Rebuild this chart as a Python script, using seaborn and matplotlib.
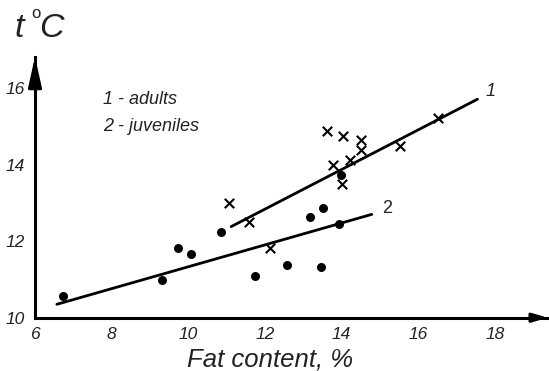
import matplotlib
matplotlib.use("Agg")
import matplotlib.pyplot as plt
from matplotlib.patches import FancyArrowPatch
import seaborn as sns
import pandas as pd

# Adults (crosses)
adult_fat = [11.07, 11.59, 12.14, 13.62, 14.04, 13.78, 14.22, 14.02, 14.51, 14.51, 15.53, 16.52]
adult_temp = [13.00, 12.50, 11.82, 14.87, 14.74, 13.99, 14.12, 13.49, 14.64, 14.38, 14.48, 15.21]
# Juveniles (dots)
juv_fat = [6.74, 9.32, 9.72, 10.07, 10.85, 11.75, 12.57, 13.46, 13.18, 13.53, 13.94, 13.99]
juv_temp = [10.57, 10.99, 11.81, 11.66, 12.24, 11.08, 11.37, 11.32, 12.63, 12.86, 12.45, 13.74]
# Trend lines (end points)
line1_x = [11.12, 17.55]
line1_y = [12.38, 15.71]
line2_x = [6.57, 14.79]
line2_y = [10.35, 12.70]

x_major = [6, 8, 10, 12, 14, 16, 18]
x_minor = [7, 9, 11, 13, 15, 17]
y_major = [10, 12, 14, 16]
y_minor = [11, 13, 15]

sns.set_theme(style="white")
plt.rcParams['font.family'] = ['Liberation Sans', 'DejaVu Sans']

TXT = "#222222"
fig = plt.figure(figsize=(5.49, 3.71), dpi=100)
ax = fig.add_axes([35/549, 53.3/371, 513/549, 261/371])

dfa = pd.DataFrame({"fat": adult_fat, "temp": adult_temp})
dfj = pd.DataFrame({"fat": juv_fat, "temp": juv_temp})
sns.scatterplot(data=dfa, x="fat", y="temp", marker="x", s=46, color="black",
                linewidth=1.5, ax=ax, zorder=3)
sns.scatterplot(data=dfj, x="fat", y="temp", marker="o", s=42, color="black",
                edgecolor="black", linewidth=0, ax=ax, zorder=3)
sns.lineplot(x=line1_x, y=line1_y, color="black", linewidth=2.0, ax=ax, zorder=2)
sns.lineplot(x=line2_x, y=line2_y, color="black", linewidth=2.0, ax=ax, zorder=2)

ax.set_xlim(6, 19.39)
ax.set_ylim(10, 16.82)

for s in ["top", "right"]:
    ax.spines[s].set_visible(False)
for s in ["left", "bottom"]:
    ax.spines[s].set_linewidth(2.2)
    ax.spines[s].set_color("black")

ax.set_xticks(x_major)
ax.set_xticks(x_minor, minor=True)
ax.set_yticks(y_major)
ax.set_yticks(y_minor, minor=True)
ax.set_xticklabels([str(v) for v in x_major])
ax.set_yticklabels([str(v) for v in y_major])
ax.tick_params(axis="both", which="both", direction="in", length=7, width=2.0,
               color="black", labelcolor=TXT, labelsize=12.5)
ax.tick_params(axis="x", which="major", pad=7)
ax.tick_params(axis="y", which="major", pad=7)
for lab in ax.get_xticklabels() + ax.get_yticklabels():
    lab.set_fontstyle("italic")

ax.set_xlabel("")
ax.set_ylabel("")
fig.text(270/549, 4.5/371, "Fat content, %", fontsize=18.5, fontstyle="italic",
         color=TXT, ha="center", va="baseline")

# axis arrows
arr_y = FancyArrowPatch((0, 0.93), (0, 1.0), transform=ax.transAxes,
                        arrowstyle="-|>,head_length=1.8,head_width=0.4",
                        mutation_scale=10, color="black", lw=2.2,
                        shrinkA=0, shrinkB=0, clip_on=False)
arr_x = FancyArrowPatch((0.97, 0), (1.0, 0), transform=ax.transAxes,
                        arrowstyle="-|>,head_length=0.9,head_width=0.26",
                        mutation_scale=10, color="black", lw=2.2,
                        shrinkA=0, shrinkB=0, clip_on=False)
ax.add_patch(arr_y)
ax.add_patch(arr_x)

# legend-like texts
ax.text(7.78, 15.70, "1 - adults", fontsize=13, fontstyle="italic", color=TXT,
        ha="left", va="center")
ax.text(7.78, 14.99, "2 - juveniles", fontsize=13, fontstyle="italic", color=TXT,
        ha="left", va="center")
ax.text(17.75, 15.92, "1", fontsize=13, fontstyle="italic", color=TXT,
        ha="left", va="center")
ax.text(15.05, 12.85, "2", fontsize=13, color=TXT, ha="left", va="center")

# y-axis title t°C
fig.text(14/549, 1 - 37/371, "t", fontsize=24.5, fontstyle="italic", color=TXT,
         ha="left", va="baseline")
fig.text(31/549, 1 - 18.5/371, "o", fontsize=12, color=TXT, ha="left", va="baseline")
fig.text(39/549, 1 - 37/371, "C", fontsize=24.5, fontstyle="italic", color=TXT,
         ha="left", va="baseline")

fig.savefig("out.png", dpi=100)
